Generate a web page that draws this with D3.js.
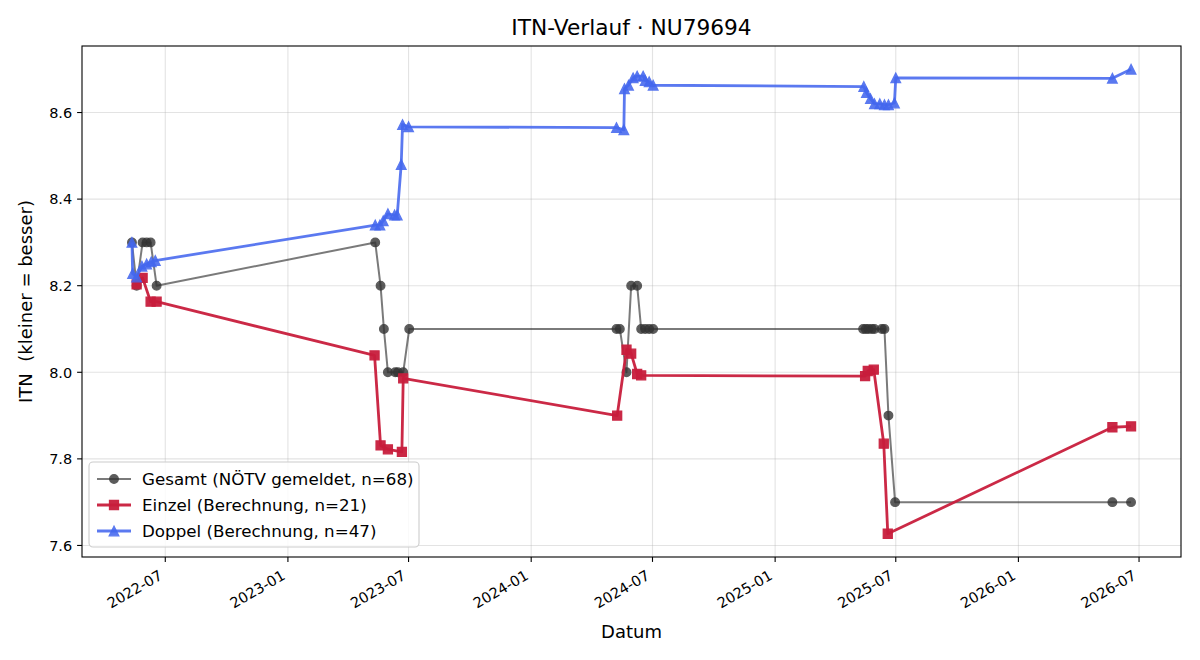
<!DOCTYPE html>
<html><head><meta charset="utf-8">
<script src="https://cdn.jsdelivr.net/npm/d3@7"></script>
<style>
body{margin:0;background:#fff}
svg{display:block}
text{font-family:"DejaVu Sans",sans-serif;fill:#000}
</style>
</head><body>
<svg id="chart" width="1200" height="660"></svg>
<script>
// ---- data ----
const gesamtDates = ["2022-05-12","2022-05-19","2022-05-28","2022-06-03","2022-06-09","2022-06-18",
  "2023-05-12","2023-05-20","2023-05-25","2023-05-31","2023-06-11","2023-06-15","2023-06-23","2023-07-02",
  "2024-05-08","2024-05-13","2024-05-23","2024-05-30","2024-06-08","2024-06-14","2024-06-20","2024-06-26","2024-07-02",
  "2025-05-13","2025-05-17","2025-05-21","2025-05-26","2025-05-30","2025-06-10","2025-06-14","2025-06-20","2025-06-30",
  "2026-05-22","2026-06-19"];
const gesamtValues = [8.3,8.2,8.3,8.3,8.3,8.2,
  8.3,8.2,8.1,8.0,8.0,8.0,8.0,8.1,
  8.1,8.1,8.0,8.2,8.2,8.1,8.1,8.1,8.1,
  8.1,8.1,8.1,8.1,8.1,8.1,8.1,7.9,7.7,
  7.7,7.7];

const einzelDates = ["2022-05-19","2022-05-28","2022-06-09","2022-06-18",
  "2023-05-11","2023-05-20","2023-05-31","2023-06-21","2023-06-23",
  "2024-05-09","2024-05-23","2024-05-30","2024-06-08","2024-06-14",
  "2025-05-16","2025-05-20","2025-05-29","2025-06-13","2025-06-19",
  "2026-05-22","2026-06-19"];
const einzelValues = [8.203,8.218,8.163,8.163,
  8.039,7.831,7.822,7.816,7.986,
  7.900,8.052,8.043,7.996,7.993,
  7.991,8.003,8.006,7.835,7.627,
  7.873,7.875];

const doppelDates = ["2022-05-12","2022-05-13","2022-05-19","2022-05-27","2022-06-03","2022-06-10","2022-06-16",
  "2023-05-12","2023-05-19","2023-05-24","2023-05-31","2023-06-10","2023-06-14","2023-06-20","2023-06-22","2023-07-01",
  "2024-05-08","2024-05-19","2024-05-20","2024-05-26","2024-06-02","2024-06-08","2024-06-17","2024-06-20","2024-06-26","2024-07-02",
  "2025-05-14","2025-05-18","2025-05-24","2025-05-30","2025-06-07","2025-06-14","2025-06-20","2025-06-29","2025-07-01",
  "2026-05-22","2026-06-19"];
const doppelValues = [8.300,8.228,8.220,8.245,8.250,8.255,8.258,
  8.340,8.340,8.350,8.366,8.363,8.363,8.480,8.572,8.567,
  8.565,8.560,8.655,8.663,8.680,8.684,8.684,8.674,8.671,8.663,
  8.660,8.646,8.632,8.620,8.620,8.618,8.618,8.622,8.680,
  8.679,8.700];

const seriesLabels = ["Gesamt (NÖTV gemeldet, n=68)","Einzel (Berechnung, n=21)","Doppel (Berechnung, n=47)"];
const xTickDates = ["2022-07-01","2023-01-01","2023-07-01","2024-01-01","2024-07-01","2025-01-01","2025-07-01","2026-01-01","2026-07-01"];
const yTickValues = [7.6,7.8,8.0,8.2,8.4,8.6];
const titleText = "ITN-Verlauf · NU79694";
const xLabelText = "Datum";
const yLabelText = "ITN\u00a0\u00a0(kleiner = besser)";

// ---- build ----
const parse = d3.utcParse("%Y-%m-%d");
const mk = (ds, vs) => ds.map((d, i) => ({date: parse(d), value: vs[i]}));
const series = [
  {name: seriesLabels[0], data: mk(gesamtDates, gesamtValues), color: "#333333", lineOp: 0.65, markOp: 0.8, lw: 2.0, marker: "circle", ms: 8.6},
  {name: seriesLabels[1], data: mk(einzelDates, einzelValues), color: "#c81d3c", lineOp: 0.95, markOp: 0.95, lw: 2.8, marker: "square", ms: 9.0},
  {name: seriesLabels[2], data: mk(doppelDates, doppelValues), color: "#4467ee", lineOp: 0.88, markOp: 0.88, lw: 2.8, marker: "triangle", ms: 9.6}
];

const svg = d3.select("#chart");
const L = 82, R = 1181, T = 46, B = 557;

const allPts = series.flatMap(s => s.data);
const tExt = d3.extent(allPts, d => +d.date);
const tPad = (tExt[1] - tExt[0]) * 0.05;
const vExt = d3.extent(allPts, d => d.value);
const vPad = (vExt[1] - vExt[0]) * 0.05;

const x = d3.scaleUtc().domain([new Date(tExt[0] - tPad), new Date(tExt[1] + tPad)]).range([L, R]);
const y = d3.scaleLinear().domain([vExt[0] - vPad, vExt[1] + vPad]).range([B, T]);

const xTicks = xTickDates.map(parse);

// grid
const grid = svg.append("g");
grid.selectAll("line.v").data(xTicks).join("line")
  .attr("x1", d => x(d)).attr("x2", d => x(d)).attr("y1", T).attr("y2", B)
  .attr("stroke", "#b0b0b0").attr("stroke-opacity", 0.35).attr("stroke-width", 1.1);
grid.selectAll("line.h").data(yTickValues).join("line")
  .attr("y1", d => y(d)).attr("y2", d => y(d)).attr("x1", L).attr("x2", R)
  .attr("stroke", "#b0b0b0").attr("stroke-opacity", 0.35).attr("stroke-width", 1.1);

function markerPath(type, s) {
  const h = s / 2;
  if (type === "circle") return d3.symbol(d3.symbolCircle, Math.PI * h * h)();
  if (type === "square") return `M${-h},${-h}L${h},${-h}L${h},${h}L${-h},${h}Z`;
  return `M0,${-h}L${-h},${h}L${h},${h}Z`;
}

const line = d3.line().x(d => x(d.date)).y(d => y(d.value));
const plot = svg.append("g");
series.forEach(s => {
  plot.append("path").datum(s.data).attr("d", line)
    .attr("fill", "none").attr("stroke", s.color).attr("stroke-opacity", s.lineOp)
    .attr("stroke-width", s.lw).attr("stroke-linejoin", "round").attr("stroke-linecap", "butt");
  plot.append("g").selectAll("path").data(s.data).join("path")
    .attr("d", markerPath(s.marker, s.ms))
    .attr("transform", d => `translate(${x(d.date)},${y(d.value)})`)
    .attr("fill", s.color).attr("stroke", s.color).attr("stroke-width", 1.3)
    .attr("opacity", s.markOp);
});

// spines
svg.append("rect").attr("x", L).attr("y", T).attr("width", R - L).attr("height", B - T)
  .attr("fill", "none").attr("stroke", "#000").attr("stroke-width", 1.1);

// x axis ticks
const fmtX = d3.utcFormat("%Y-%m");
const tickFs = 14.5;
const xt = svg.append("g");
xTicks.forEach(d => {
  const tx = x(d);
  xt.append("line").attr("x1", tx).attr("x2", tx).attr("y1", B).attr("y2", B + 4.9)
    .attr("stroke", "#000").attr("stroke-width", 1.1);
  const h = tickFs * 1.164;
  xt.append("text")
    .attr("transform", `translate(${tx},${B + 9.8 + h * 0.866}) rotate(-30)`)
    .attr("text-anchor", "end").attr("y", -tickFs * 0.236)
    .attr("font-size", tickFs).text(fmtX(d));
});
// y axis ticks
const fmtY = d3.format(".1f");
const yt = svg.append("g");
yTickValues.forEach(v => {
  const ty = y(v);
  yt.append("line").attr("x1", L - 4.9).attr("x2", L).attr("y1", ty).attr("y2", ty)
    .attr("stroke", "#000").attr("stroke-width", 1.1);
  yt.append("text").attr("x", L - 9.8).attr("y", ty).attr("dy", "0.36em")
    .attr("text-anchor", "end").attr("font-size", tickFs).text(fmtY(v));
});

// labels
svg.append("text").attr("x", (L + R) / 2).attr("y", 35).attr("text-anchor", "middle")
  .attr("font-size", 21.7).text(titleText);
svg.append("text").attr("x", (L + R) / 2).attr("y", 638).attr("text-anchor", "middle")
  .attr("font-size", 18).text(xLabelText);
svg.append("text").attr("transform", `translate(32,${(T + B) / 2}) rotate(-90)`)
  .attr("text-anchor", "middle").attr("font-size", 18).text(yLabelText);

// legend
const lg = svg.append("g");
lg.append("rect").attr("x", 89).attr("y", 462).attr("width", 330).attr("height", 85)
  .attr("rx", 4).attr("fill", "#fff").attr("fill-opacity", 0.8)
  .attr("stroke", "#cccccc").attr("stroke-width", 1.1);
series.forEach((s, i) => {
  const cy = 479 + i * 26;
  lg.append("line").attr("x1", 97).attr("x2", 131).attr("y1", cy).attr("y2", cy)
    .attr("stroke", s.color).attr("stroke-opacity", s.lineOp).attr("stroke-width", s.lw);
  lg.append("path").attr("d", markerPath(s.marker, s.ms))
    .attr("transform", `translate(114,${cy})`)
    .attr("fill", s.color).attr("stroke", s.color).attr("stroke-width", 1.3).attr("opacity", s.markOp);
  lg.append("text").attr("x", 142).attr("y", cy).attr("dy", "0.36em")
    .attr("font-size", 16.7).text(s.name);
});
</script>
</body></html>
